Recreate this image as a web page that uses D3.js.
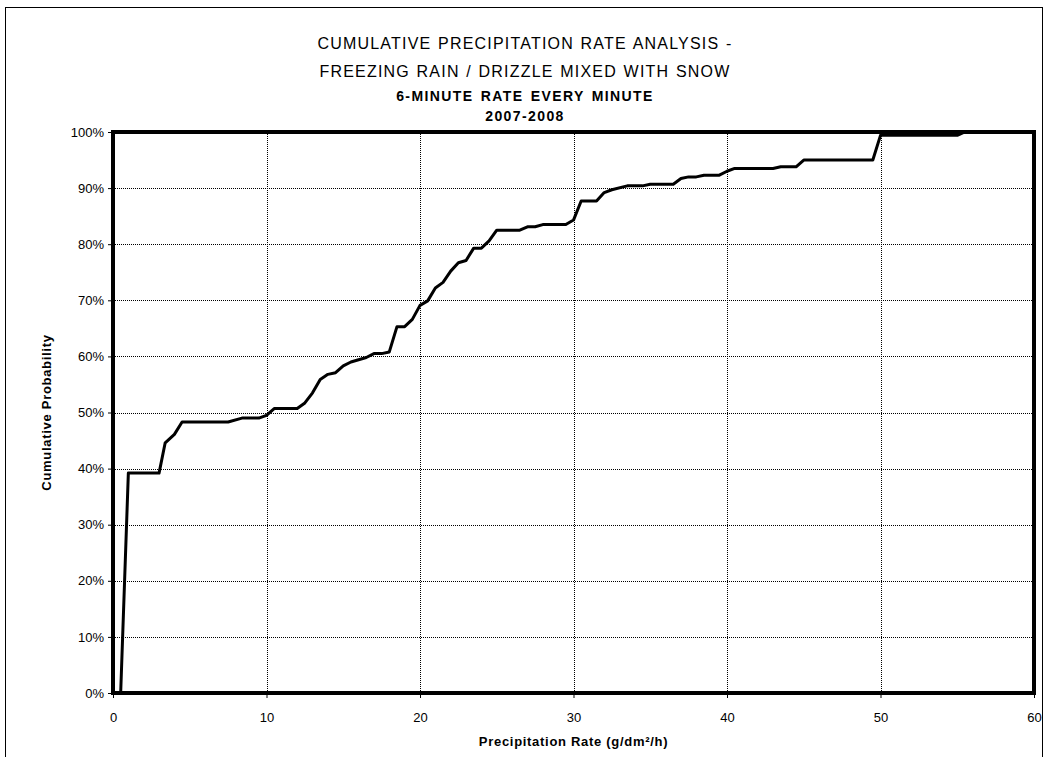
<!DOCTYPE html>
<html lang="en">
<head>
<meta charset="UTF-8">
<title>Cumulative Precipitation Rate Analysis</title>
<script src="https://d3js.org/d3.v7.min.js"></script>
<style>
  body, html { margin: 0; background: #fff; overflow: hidden; }
  text { font-family: "Liberation Sans", Arial, sans-serif; fill: #000; }
  .grid line { stroke: #000; stroke-width: 1; stroke-dasharray: 1, 1; }
</style>
</head>
<body>
<script>
// precipitation rate (g/dm²/h) and cumulative probability (%)
const rate = [0, 0.5, 1.0, 3.0, 3.4, 4.0, 4.5, 7.5, 8.4, 9.5, 10.0, 10.5, 12.0, 12.5, 13.0, 13.5, 14.0, 14.5,
  15.0, 15.5, 16.5, 17.0, 17.5, 18.0, 18.5, 19.0, 19.5, 20.0, 20.5, 21.0, 21.5, 22.0, 22.5, 23.0, 23.5,
  24.0, 24.5, 25.0, 26.5, 27.0, 27.5, 28.0, 29.5, 30.0, 30.5, 31.5, 32.0, 32.5, 33.5, 34.5, 35.0, 36.5,
  37.0, 37.5, 38.0, 38.5, 39.5, 40.0, 40.5, 43.0, 43.5, 44.5, 45.0, 49.5, 50.0, 55.0, 55.5];
const prob = [0, 0, 39.2, 39.2, 44.6, 46.1, 48.3, 48.3, 49.0, 49.0, 49.5, 50.7, 50.7, 51.7, 53.5, 55.9, 56.8, 57.1,
  58.3, 59.0, 59.8, 60.5, 60.5, 60.8, 65.3, 65.3, 66.6, 69.1, 69.9, 72.2, 73.2, 75.2, 76.7, 77.1, 79.3,
  79.3, 80.6, 82.5, 82.5, 83.1, 83.1, 83.5, 83.5, 84.3, 87.7, 87.7, 89.2, 89.7, 90.4, 90.4, 90.7, 90.7,
  91.7, 92.0, 92.0, 92.3, 92.3, 93.0, 93.5, 93.5, 93.8, 93.8, 95.0, 95.0, 99.4, 99.4, 100];
const xTicks = [0, 10, 20, 30, 40, 50, 60];
const yTicks = [0, 10, 20, 30, 40, 50, 60, 70, 80, 90, 100];
const titleLines = [
  { text: "CUMULATIVE PRECIPITATION RATE ANALYSIS -", bold: false },
  { text: "FREEZING RAIN / DRIZZLE MIXED WITH SNOW", bold: false },
  { text: "6-MINUTE RATE EVERY MINUTE", bold: true },
  { text: "2007-2008", bold: true }
];

const W = 1049, H = 757;
const m = { left: 113, top: 132, right: 1034, bottom: 693 };

const svg = d3.select("body").append("svg").attr("width", W).attr("height", H);

// outer chart border
svg.append("rect")
  .attr("x", 5.5).attr("y", 7.5).attr("width", 1037).attr("height", 760)
  .attr("fill", "none").attr("stroke", "#000").attr("stroke-width", 1);

const x = d3.scaleLinear().domain([0, 60]).range([m.left, m.right]);
const y = d3.scaleLinear().domain([0, 100]).range([m.bottom, m.top]);

// gridlines
const grid = svg.append("g").attr("class", "grid");
grid.selectAll(".h").data(yTicks.slice(1, -1)).enter().append("line")
  .attr("x1", m.left).attr("x2", m.right)
  .attr("y1", d => Math.round(y(d)) + 0.5).attr("y2", d => Math.round(y(d)) + 0.5);
grid.selectAll(".v").data(xTicks.slice(1, -1)).enter().append("line")
  .attr("y1", m.top).attr("y2", m.bottom)
  .attr("x1", d => Math.round(x(d)) + 0.5).attr("x2", d => Math.round(x(d)) + 0.5);

// axes
const yAxis = svg.append("g").attr("transform", `translate(${m.left},0)`)
  .call(d3.axisLeft(y).tickValues(yTicks).tickFormat(d => d + "%").tickSize(5).tickPadding(4));
const xAxis = svg.append("g").attr("transform", `translate(0,${m.bottom})`)
  .call(d3.axisBottom(x).tickValues(xTicks).tickSize(5).tickPadding(15));
[yAxis, xAxis].forEach(a => {
  a.select(".domain").remove();
  a.selectAll("line").attr("stroke", "#000");
  a.selectAll("text").attr("font-size", 13).attr("font-family", "Liberation Sans, Arial, sans-serif");
});

// data line
const line = d3.line().x((d, i) => x(rate[i])).y((d, i) => y(prob[i]));
svg.append("path").datum(prob)
  .attr("d", line)
  .attr("fill", "none").attr("stroke", "#000").attr("stroke-width", 3)
  .attr("stroke-linejoin", "round");

// plot area frame
svg.append("rect")
  .attr("x", m.left).attr("y", m.top)
  .attr("width", m.right - m.left).attr("height", m.bottom - m.top)
  .attr("fill", "none").attr("stroke", "#000").attr("stroke-width", 4);

// titles
const tY = [49, 77, 101, 121];
svg.selectAll(".title").data(titleLines).enter().append("text")
  .attr("x", 525).attr("y", (d, i) => tY[i])
  .attr("text-anchor", "middle")
  .attr("font-size", d => d.bold ? 14 : 16)
  .attr("font-weight", d => d.bold ? "bold" : "normal")
  .attr("letter-spacing", d => d.bold ? 1.4 : 1.2)
  .attr("word-spacing", d => d.bold ? 2 : 1)
  .text(d => d.text);

svg.append("text")
  .attr("x", (m.left + m.right) / 2).attr("y", 746)
  .attr("text-anchor", "middle").attr("font-size", 13).attr("font-weight", "bold")
  .attr("letter-spacing", 0.7)
  .text("Precipitation Rate (g/dm²/h)");

svg.append("text")
  .attr("transform", `translate(51,${(m.top + m.bottom) / 2}) rotate(-90)`)
  .attr("text-anchor", "middle").attr("font-size", 13).attr("font-weight", "bold")
  .attr("letter-spacing", 0.7)
  .text("Cumulative Probability");
</script>
</body>
</html>
